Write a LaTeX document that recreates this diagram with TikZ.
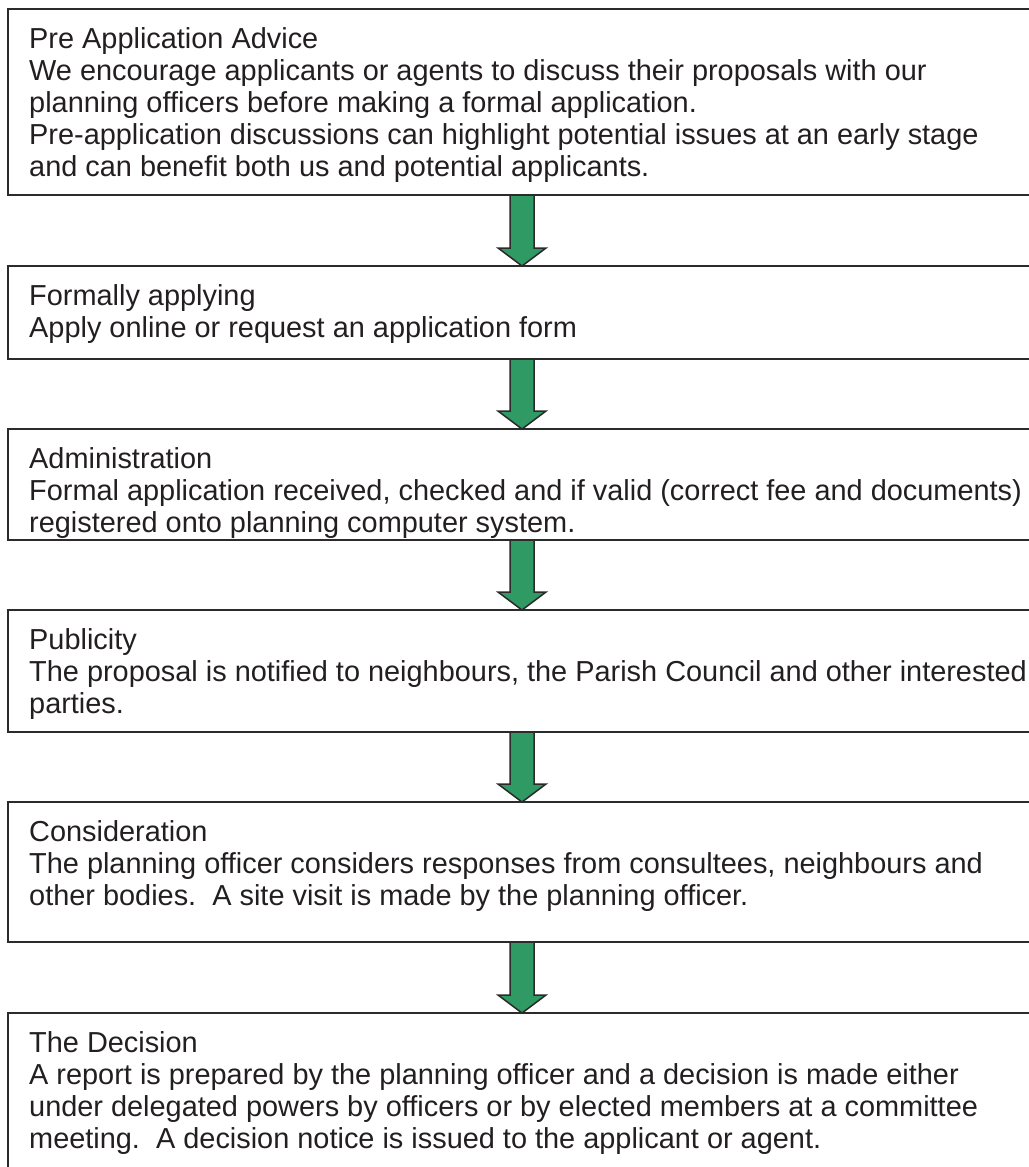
\documentclass[tikz,border=0pt]{standalone}
\usepackage{fontspec}
\setmainfont{Liberation Sans}
\usetikzlibrary{calc}
\definecolor{stageline}{HTML}{2B2B2B}
\definecolor{stageink}{HTML}{231F20}
\definecolor{flowgreen}{HTML}{2F9A64}

\begin{document}
\begin{tikzpicture}[
  x={(1pt,0pt)},
  y={(0pt,-1pt)},
  line join=miter,
  stagebox/.style={draw=stageline,line width=2pt,anchor=north west,minimum width=1028pt,outer sep=0pt,inner sep=0pt},
  stagetext/.style={anchor=north west,inner sep=0pt,align=left,text=stageink,font=\fontsize{28.9}{32}\selectfont,xshift=21pt,yshift=-18.5pt},
  flowarrow/.style={fill=flowgreen,draw=stageline,line width=1.5pt}
]
  \useasboundingbox (0,0) rectangle (1028,1167);

  % Stage frames; they run off the right edge of the page.
  \node[stagebox,minimum height=186pt] (box1) at (8,9) {};
  \node[stagebox,minimum height=93pt] (box2) at (8,266) {};
  \node[stagebox,minimum height=111pt] (box3) at (8,429) {};
  \node[stagebox,minimum height=122pt] (box4) at (8,610) {};
  \node[stagebox,minimum height=140pt] (box5) at (8,802) {};
  \node[stagebox,minimum height=200pt] (box6) at (8,1013) {};

  % Stage texts.
  \node[stagetext] (txt1) at (box1.north west) {Pre Application Advice\\
    We encourage applicants or agents to discuss their proposals with our\\
    planning officers before making a formal application.\\
    Pre-application discussions can highlight potential issues at an early stage\\
    and can benefit both us and potential applicants.};
  \node[stagetext] (txt2) at (box2.north west) {Formally applying\\
    Apply online or request an application form};
  \node[stagetext] (txt3) at (box3.north west) {Administration\\
    Formal application received, checked and if valid (correct fee and documents)\\
    registered onto planning computer system.};
  \node[stagetext] (txt4) at (box4.north west) {Publicity\\
    The proposal is notified to neighbours, the Parish Council and other interested\\
    parties.};
  \node[stagetext] (txt5) at (box5.north west) {Consideration\\
    The planning officer considers responses from consultees, neighbours and\\
    other bodies.~~A site visit is made by the planning officer.};
  \node[stagetext] (txt6) at (box6.north west) {The Decision\\
    A report is prepared by the planning officer and a decision is made either\\
    under delegated powers by officers or by elected members at a committee\\
    meeting.~~A decision notice is issued to the applicant or agent.};

  % Block arrows between consecutive stages.
  \foreach \a/\b in {box1/box2,box2/box3,box3/box4,box4/box5,box5/box6} {
    \path[flowarrow] ($(\a.south)+(-12,0)$) -- ($(\b.north)+(-12,-18)$)
      -- ($(\b.north)+(-24,-18)$) -- (\b.north) -- ($(\b.north)+(24,-18)$)
      -- ($(\b.north)+(12,-18)$) -- ($(\a.south)+(12,0)$) -- cycle;
  }
\end{tikzpicture}
\end{document}
